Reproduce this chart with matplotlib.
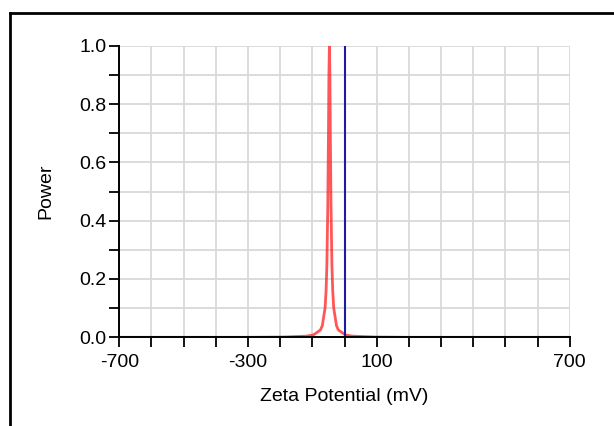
import numpy as np
import matplotlib
matplotlib.use("Agg")
import matplotlib.pyplot as plt
from matplotlib.lines import Line2D
from matplotlib.ticker import MultipleLocator

plt.rcParams["font.family"] = ["Liberation Sans", "DejaVu Sans"]

# zeta potential distribution (mV, relative power)
zeta_mv = [-700, -300, -189, -118, -97, -75, -69, -60.5, -57.3, -54.8, -52, -49.9,
           -48.5, -47, -45.5, -44.1, -42, -39.2, -36.7, -33.5, -25, -19, 3, 24, 95, 200, 700]
power = [0.0, 0.0, 0.001, 0.004, 0.008, 0.025, 0.04, 0.1, 0.16, 0.25, 0.45, 0.7,
         0.9, 1.0, 0.9, 0.7, 0.45, 0.25, 0.16, 0.1, 0.04, 0.025, 0.008, 0.004, 0.001, 0.0, 0.0]

# blue reference line
ref_x = [0, 0]
ref_y = [0, 1]

x_ticks = [-700, -300, 100, 700]
y_ticks = [0.0, 0.2, 0.4, 0.6, 0.8, 1.0]

fig = plt.figure(figsize=(6.14, 4.26), dpi=100)
ax = fig.add_axes([0.1943, 0.2082, 0.7336, 0.6845])

ax.plot(zeta_mv, power, color=(1.0, 0.12, 0.12), alpha=0.75, lw=2, zorder=2)
ax.plot(ref_x, ref_y, color="#1c1ca0", lw=1.5, zorder=2.2)

ax.set_xlim(-700, 700)
ax.set_ylim(0, 1)
ax.set_xticks(x_ticks)
ax.set_xticklabels([str(v) for v in x_ticks])
ax.xaxis.set_minor_locator(MultipleLocator(100))
ax.set_yticks(y_ticks)
ax.set_yticklabels([f"{v:.1f}" for v in y_ticks])
ax.yaxis.set_minor_locator(MultipleLocator(0.1))

ax.grid(True, which="both", color="#d9d9d9", lw=1.3)
ax.set_axisbelow(True)
ax.spines["top"].set_visible(False)
ax.spines["right"].set_visible(False)
ax.spines["left"].set_linewidth(1.4)
ax.spines["bottom"].set_linewidth(1.4)
ax.spines["left"].set_zorder(3)
ax.spines["bottom"].set_zorder(3)
ax.tick_params(which="both", direction="out", length=7, width=1.3, labelsize=14)
ax.tick_params(axis="x", pad=5)
ax.tick_params(axis="y", pad=2)

ax.set_xlabel("Zeta Potential (mV)", fontsize=14, labelpad=12)
ax.set_ylabel("Power", fontsize=14, labelpad=18)

# outer frame (left and top edges only)
fig.add_artist(Line2D([0.0155, 0.0155], [0.0, 0.9695], color="black", lw=2, transform=fig.transFigure))
fig.add_artist(Line2D([0.0155, 1.0], [0.9695, 0.9695], color="black", lw=2, transform=fig.transFigure))

fig.savefig("out.png", dpi=100)
